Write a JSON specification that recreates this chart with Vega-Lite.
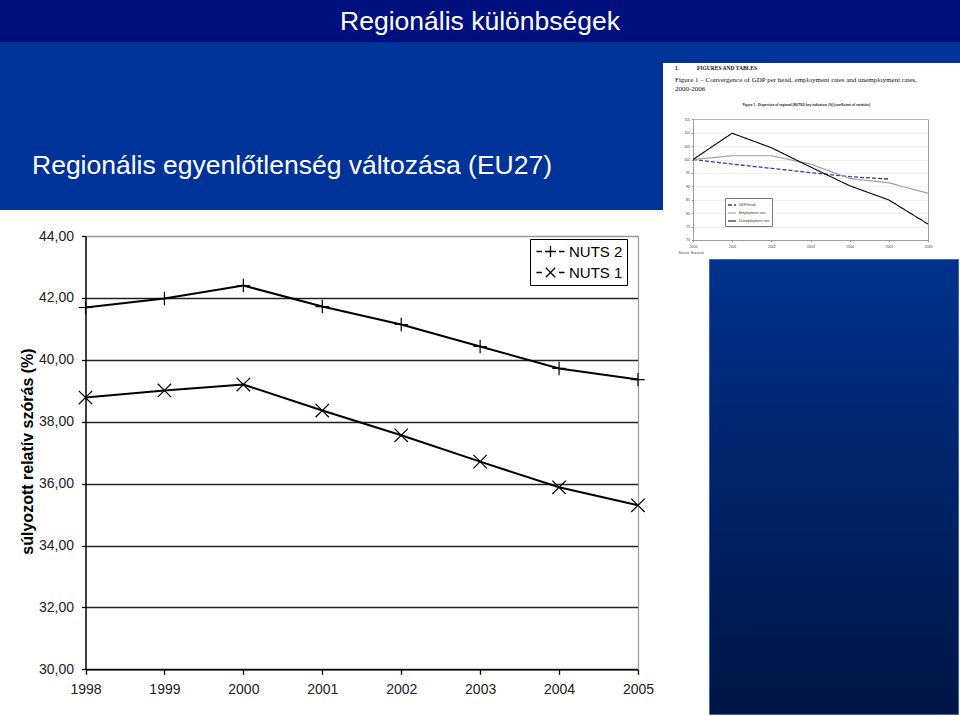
{
  "$schema": "https://vega.github.io/schema/vega-lite/v6.json",
  "background": "#ffffff",
  "padding": 0,
  "spacing": 0,
  "config": {"view": {"stroke": null}, "font": "Liberation Sans", "axis": {"labelFlush": false}},
  "resolve": {"scale": {"color": "independent", "shape": "independent", "strokeDash": "independent", "strokeWidth": "independent"}, "legend": {"color": "independent", "shape": "independent", "strokeDash": "independent", "strokeWidth": "independent"}},
  "vconcat": [
    {
      "width": 960, "height": 42,
      "view": {"fill": "#00117f", "stroke": null},
      "data": {"values": [{"t": "Regionális különbségek"}]},
      "mark": {"type": "text", "font": "Liberation Sans", "fontSize": 26.5, "color": "#ffffff", "baseline": "alphabetic", "dy": 9},
      "encoding": {"text": {"field": "t"}}
    },
    {
      "spacing": 0,
      "resolve": {"scale": {"color": "independent", "shape": "independent", "strokeDash": "independent", "strokeWidth": "independent"}, "legend": {"color": "independent", "shape": "independent", "strokeDash": "independent", "strokeWidth": "independent"}},
      "hconcat": [
        {
          "spacing": 0,
          "resolve": {"scale": {"color": "independent", "shape": "independent", "strokeDash": "independent", "strokeWidth": "independent"}, "legend": {"color": "independent", "shape": "independent", "strokeDash": "independent", "strokeWidth": "independent"}},
          "vconcat": [
            {
              "width": 663, "height": 168,
              "view": {"fill": "#003399", "stroke": null},
              "title": {"text": "Regionális egyenlőtlenség változása (EU27)", "orient": "bottom", "anchor": "start", "frame": "group", "offset": -36, "dx": 32, "baseline": "alphabetic", "font": "Liberation Sans", "fontSize": 26.5, "fontWeight": "normal", "color": "#ffffff"},
              "data": {"values": []},
              "mark": {"type": "point", "opacity": 0}
            },
            {
              "width": 663, "height": 506,
              "data": {"values": [
                {"year": 1998, "series": "NUTS 2", "value": 41.69},
                {"year": 1999, "series": "NUTS 2", "value": 41.98},
                {"year": 2000, "series": "NUTS 2", "value": 42.40},
                {"year": 2001, "series": "NUTS 2", "value": 41.72},
                {"year": 2002, "series": "NUTS 2", "value": 41.14},
                {"year": 2003, "series": "NUTS 2", "value": 40.43},
                {"year": 2004, "series": "NUTS 2", "value": 39.72},
                {"year": 2005, "series": "NUTS 2", "value": 39.36},
                {"year": 1998, "series": "NUTS 1", "value": 38.78},
                {"year": 1999, "series": "NUTS 1", "value": 39.01},
                {"year": 2000, "series": "NUTS 1", "value": 39.20},
                {"year": 2001, "series": "NUTS 1", "value": 38.36},
                {"year": 2002, "series": "NUTS 1", "value": 37.56},
                {"year": 2003, "series": "NUTS 1", "value": 36.71},
                {"year": 2004, "series": "NUTS 1", "value": 35.88},
                {"year": 2005, "series": "NUTS 1", "value": 35.30}
              ]},
              "encoding": {
                "x": {"field": "year", "type": "quantitative",
                  "scale": {"domain": [1998, 2005], "range": [85.5, 638], "nice": false, "zero": false},
                  "axis": {"values": [1998, 1999, 2000, 2001, 2002, 2003, 2004, 2005], "format": "d", "offset": -46.7,
                    "labelFlush": false, "labelFont": "Liberation Sans", "labelFontSize": 14, "labelColor": "#222222", "labelPadding": 8,
                    "tickSize": 5, "tickColor": "#000000", "tickWidth": 1.3, "domainColor": "#000000", "domainWidth": 1.5,
                    "grid": false, "title": null}}
              },
              "resolve": {"scale": {"y": "independent", "shape": "independent"}, "axis": {"y": "independent"}, "legend": {"shape": "independent"}},
              "layer": [
                {
                  "mark": {"type": "line", "color": "#000000", "strokeWidth": 2},
                  "encoding": {
                    "y": {"field": "value", "type": "quantitative",
                      "scale": {"domain": [30, 44], "range": [459.3, 26], "nice": false, "zero": false},
                      "axis": {"values": [30, 32, 34, 36, 38, 40, 42, 44], "offset": -85.5, "labelFlush": false,
                        "labelExpr": "replace(format(datum.value, '.2f'), '.', ',')",
                        "labelFont": "Liberation Sans", "labelFontSize": 14, "labelColor": "#222222", "labelPadding": 8,
                        "tickSize": 4, "tickColor": "#000000", "tickWidth": 1.3, "domainColor": "#000000", "domainWidth": 1.5,
                        "grid": true, "gridWidth": 1.5,
                        "gridColor": {"condition": {"test": "datum.value === 44", "value": "#999999"}, "value": "#222222"},
                        "title": "súlyozott relatív szórás (%)", "titleFont": "Liberation Sans", "titleFontSize": 16, "titleFontWeight": "bold",
                        "titleColor": "#000000", "titleAngle": 270, "titleX": -58.5, "titleY": 241, "titleAlign": "center", "titleBaseline": "middle"}},
                    "detail": {"field": "series"}
                  }
                },
                {
                  "mark": {"type": "point", "filled": false, "color": "#000000", "strokeWidth": 1.2, "size": 180, "opacity": 1},
                  "encoding": {
                    "y": {"field": "value", "type": "quantitative",
                      "scale": {"domain": [30, 44], "range": [459.3, 26], "nice": false, "zero": false},
                      "axis": {"orient": "right", "offset": -25, "labels": false, "ticks": false, "grid": false,
                        "domainColor": "#999999", "domainWidth": 1.2, "title": null}},
                    "shape": {"field": "series", "type": "nominal",
                      "scale": {"domain": ["NUTS 2", "NUTS 1"], "range": ["M-1,0H1M0,-1V1", "M-1,-1L1,1M-1,1L1,-1"]},
                      "legend": null}
                  }
                },
                {
                  "data": {"values": []},
                  "mark": {"type": "point", "filled": false, "color": "#000000", "strokeWidth": 1.3, "opacity": 1},
                  "encoding": {"shape": {"field": "series", "type": "nominal",
                    "scale": {"domain": ["NUTS 2", "NUTS 1"], "range": ["M-1.8,0H-1.1M-0.7,0H0.7M1.1,0H1.8M0,-0.7V0.7", "M-1.8,0H-1.1M-0.6,-0.6L0.6,0.6M-0.6,0.6L0.6,-0.6M1.1,0H1.8"]},
                    "legend": {"orient": "none", "legendX": 530, "legendY": 29, "title": null, "padding": 4,
                      "strokeColor": "#000000", "fillColor": "#ffffff", "labelFont": "Liberation Sans", "labelFontSize": 15,
                      "labelColor": "#000000", "symbolSize": 243, "symbolStrokeColor": "#000000", "symbolStrokeWidth": 1.3,
                      "symbolOffset": 8, "labelOffset": 10, "rowPadding": 4}}}
                }
              ]
            }
          ]
        },
        {
          "spacing": 0,
          "resolve": {"scale": {"color": "independent", "shape": "independent", "strokeDash": "independent", "strokeWidth": "independent"}, "legend": {"color": "independent", "shape": "independent", "strokeDash": "independent", "strokeWidth": "independent"}},
          "vconcat": [
            {
              "width": 297, "height": 21,
              "view": {"fill": "#003399", "stroke": null},
              "data": {"values": []},
              "mark": {"type": "point", "opacity": 0}
            },
            {
              "width": 297, "height": 195,
              "view": {"fill": "#ffffff", "stroke": null},
              "title": {
                "text": "1.\u00a0\u00a0\u00a0\u00a0\u00a0\u00a0\u00a0\u00a0\u00a0\u00a0\u00a0\u00a0\u00a0FIGURES AND TABLES",
                "subtitle": ["Figure 1 – Convergence of GDP per head, employment rates and unemployment rates,", "2000-2006"],
                "orient": "top", "anchor": "start", "frame": "group", "offset": -29, "dx": 12,
                "font": "Liberation Serif", "fontSize": 5.5, "fontWeight": "bold", "color": "#111111",
                "subtitleFont": "Liberation Serif", "subtitleFontSize": 7, "subtitleColor": "#111111", "subtitlePadding": 5, "subtitleLineHeight": 9
              },
              "data": {"values": [
                {"yr": 2000, "ind": "GDP/head", "val": 100.0},
                {"yr": 2001, "ind": "GDP/head", "val": 98.3},
                {"yr": 2002, "ind": "GDP/head", "val": 96.7},
                {"yr": 2003, "ind": "GDP/head", "val": 95.1},
                {"yr": 2004, "ind": "GDP/head", "val": 93.6},
                {"yr": 2005, "ind": "GDP/head", "val": 92.7},
                {"yr": 2000, "ind": "Employment rate", "val": 100.0},
                {"yr": 2001, "ind": "Employment rate", "val": 101.4},
                {"yr": 2002, "ind": "Employment rate", "val": 101.4},
                {"yr": 2003, "ind": "Employment rate", "val": 98.3},
                {"yr": 2004, "ind": "Employment rate", "val": 92.9},
                {"yr": 2005, "ind": "Employment rate", "val": 91.3},
                {"yr": 2006, "ind": "Employment rate", "val": 87.4},
                {"yr": 2000, "ind": "Unemployment rate", "val": 100.0},
                {"yr": 2001, "ind": "Unemployment rate", "val": 109.8},
                {"yr": 2002, "ind": "Unemployment rate", "val": 104.4},
                {"yr": 2003, "ind": "Unemployment rate", "val": 97.2},
                {"yr": 2004, "ind": "Unemployment rate", "val": 90.2},
                {"yr": 2005, "ind": "Unemployment rate", "val": 84.9},
                {"yr": 2006, "ind": "Unemployment rate", "val": 75.9}
              ]},
              "encoding": {
                "x": {"field": "yr", "type": "quantitative",
                  "scale": {"domain": [2000, 2006], "range": [30, 265], "nice": false, "zero": false},
                  "axis": {"values": [2000, 2001, 2002, 2003, 2004, 2005, 2006], "format": "d", "offset": -18, "labelFlush": false,
                    "labelFontSize": 3.5, "labelColor": "#444444", "tickSize": 1.5, "tickColor": "#888888",
                    "domainColor": "#888888", "domainWidth": 0.8, "labelPadding": 2.5, "grid": false,
                    "title": "Source: Eurostat", "titleFontSize": 3.4, "titleFontWeight": "normal", "titleColor": "#444444",
                    "titleX": 15, "titleY": 12, "titleAlign": "left", "titleBaseline": "middle"}}
              },
              "resolve": {"scale": {"y": "independent"}, "axis": {"y": "independent"}},
              "layer": [
                {
                  "mark": {"type": "line", "strokeJoin": "round"},
                  "encoding": {
                    "y": {"field": "val", "type": "quantitative",
                      "scale": {"domain": [70, 115], "range": [176.9, 56.3], "nice": false, "zero": false},
                      "axis": {"values": [70, 75, 80, 85, 90, 95, 100, 105, 110, 115], "offset": -30, "labelFlush": false,
                        "labelFontSize": 3.5, "labelColor": "#444444", "tickSize": 1.5, "tickColor": "#888888",
                        "domainColor": "#888888", "domainWidth": 0.8, "labelPadding": 2,
                        "grid": true, "gridWidth": 0.6,
                        "gridColor": {"condition": {"test": "datum.value === 115", "value": "#888888"}, "value": "#e6e6e6"},
                        "title": "Figure 1 - Dispersion of regional (NUTS2) key indicators (%) (coefficient of variation)",
                        "titleAngle": 0, "titleX": 113, "titleY": 41, "titleAlign": "center", "titleBaseline": "middle",
                        "titleFontSize": 3.2, "titleFontWeight": "bold", "titleColor": "#222222"}},
                    "color": {"field": "ind", "type": "nominal",
                      "scale": {"domain": ["GDP/head", "Employment rate", "Unemployment rate"], "range": ["#3a3a9c", "#a0a0a0", "#000000"]},
                      "legend": {"orient": "none", "legendX": 62, "legendY": 135, "title": null, "labelFontSize": 3.5, "labelColor": "#333333", "symbolSize": 64, "rowPadding": 0, "padding": 2, "strokeColor": "#777777", "fillColor": "#ffffff", "labelOffset": 2}},
                    "strokeDash": {"field": "ind", "type": "nominal",
                      "scale": {"domain": ["GDP/head", "Employment rate", "Unemployment rate"], "range": [[4, 2], [1, 0], [1, 0]]},
                      "legend": {"orient": "none", "legendX": 62, "legendY": 135, "title": null, "labelFontSize": 3.5, "labelColor": "#333333", "symbolSize": 64, "rowPadding": 0, "padding": 2, "strokeColor": "#777777", "fillColor": "#ffffff", "labelOffset": 2}},
                    "strokeWidth": {"field": "ind", "type": "nominal",
                      "scale": {"domain": ["GDP/head", "Employment rate", "Unemployment rate"], "range": [1.3, 1.1, 1.8]},
                      "legend": {"orient": "none", "legendX": 62, "legendY": 135, "title": null, "labelFontSize": 3.5, "labelColor": "#333333", "symbolSize": 64, "rowPadding": 0, "padding": 2, "strokeColor": "#777777", "fillColor": "#ffffff", "labelOffset": 2}}
                  }
                },
                {
                  "mark": {"type": "point", "opacity": 0, "size": 1},
                  "encoding": {
                    "y": {"field": "val", "type": "quantitative",
                      "scale": {"domain": [70, 115], "range": [176.9, 56.3], "nice": false, "zero": false},
                      "axis": {"orient": "right", "offset": -32, "labels": false, "ticks": false, "grid": false,
                        "domainColor": "#888888", "domainWidth": 0.8, "title": null}}
                  }
                }
              ]
            },
            {
              "spacing": 0,
              "hconcat": [
                {"width": 45, "height": 455, "data": {"values": []}, "mark": {"type": "point", "opacity": 0}},
                {"width": 249, "height": 455,
                  "view": {"fill": {"gradient": "linear", "x1": 0, "y1": 0, "x2": 0, "y2": 1, "stops": [{"offset": 0, "color": "#00328c"}, {"offset": 1, "color": "#001545"}]}, "stroke": "#3a66b5", "strokeWidth": 1},
                  "data": {"values": []}, "mark": {"type": "point", "opacity": 0}},
                {"width": 3, "height": 455, "data": {"values": []}, "mark": {"type": "point", "opacity": 0}}
              ]
            },
            {"width": 297, "height": 3, "data": {"values": []}, "mark": {"type": "point", "opacity": 0}}
          ]
        }
      ]
    }
  ]
}
